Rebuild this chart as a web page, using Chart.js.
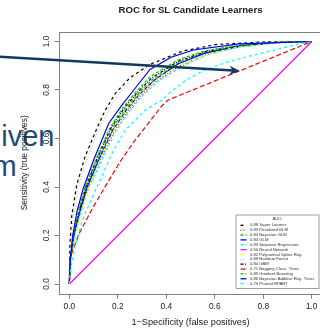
<!DOCTYPE html>
<html><head><meta charset="utf-8">
<script src="https://cdn.jsdelivr.net/npm/chart.js@4/dist/chart.umd.min.js"></script>
<style>
html,body{margin:0;padding:0;background:#fff;overflow:hidden;width:320px;height:335px;}
#wrap{position:absolute;left:0;top:0;width:330px;height:335px;z-index:1;}
.big{position:absolute;font-family:"Liberation Sans",Arial,sans-serif;font-size:29px;line-height:29px;color:#1f4d7a;white-space:nowrap;z-index:0;}
</style></head><body>
<div class="big" style="left:1.3px;top:121.5px">iven</div>
<div class="big" style="left:-7.4px;top:152.2px">m</div>
<div id="wrap"><canvas id="c"></canvas></div>
<script>
// ---------- DATA ----------
const chartTitle = 'ROC for SL Candidate Learners';
const xAxisLabel = '1\u2212Specificity (false positives)';
const yAxisLabel = 'Sensitivity (true positives)';
const legendTitle = 'AUC:';
const tickValues = [0, 0.2, 0.4, 0.6, 0.8, 1.0];
const learners = ['Super Learner','Penalized GLM','Bayesian GLM','GLM','Stepwise Regression','Neural Network','Polynomial Spline Reg.','Random Forest','GAM','Bagging Class. Trees','Gradient Boosting','Bayesian Additive Reg. Trees','Pruned RPART'];
const aucValues = [0.88,0.83,0.84,0.84,0.83,0.50,0.82,0.88,0.84,0.71,0.85,0.86,0.75];

const fprSL = [0,0.001,0.003,0.01,0.031,0.065,0.113,0.149,0.19,0.25,0.333,0.47,0.608,0.8,1];
const tprSL = [0,0.08,0.17,0.28,0.41,0.525,0.64,0.718,0.786,0.85,0.906,0.961,0.988,0.998,1];
const fprPenGLM = [0,0.006,0.021,0.047,0.078,0.125,0.185,0.24,0.294,0.355,0.46,0.57,0.7,0.85,1];
const tprPenGLM = [0,0.1,0.2,0.3,0.4,0.505,0.63,0.712,0.777,0.835,0.902,0.948,0.978,0.995,1];
const fprBayesGLM = [0,0.005,0.018,0.042,0.071,0.116,0.175,0.23,0.284,0.345,0.45,0.56,0.7,0.85,1];
const tprBayesGLM = [0,0.1,0.2,0.3,0.4,0.51,0.638,0.72,0.785,0.845,0.912,0.955,0.982,0.996,1];
const fprGLM = [0,0.005,0.019,0.044,0.074,0.12,0.179,0.234,0.288,0.35,0.45,0.56,0.7,0.85,1];
const tprGLM = [0,0.1,0.2,0.3,0.4,0.508,0.634,0.716,0.781,0.84,0.908,0.952,0.98,0.995,1];
const fprStep = [0,0.006,0.022,0.049,0.081,0.13,0.19,0.245,0.3,0.36,0.47,0.57,0.7,0.85,1];
const tprStep = [0,0.1,0.2,0.3,0.4,0.503,0.628,0.71,0.775,0.832,0.9,0.946,0.977,0.994,1];
const fprNN = [0,1];
const tprNN = [0,1];
const fprPoly = [0,0.01,0.024,0.044,0.08,0.149,0.197,0.245,0.307,0.38,0.47,0.58,0.677,0.85,1];
const tprPoly = [0,0.1,0.195,0.278,0.4,0.566,0.663,0.731,0.8,0.86,0.906,0.95,0.975,0.995,1];
const fprRF = [0,0.002,0.007,0.018,0.038,0.075,0.12,0.16,0.2,0.26,0.34,0.47,0.61,0.8,1];
const tprRF = [0,0.09,0.18,0.29,0.405,0.52,0.635,0.715,0.78,0.845,0.9,0.955,0.985,0.997,1];
const fprGAM = [0,0.004,0.017,0.04,0.068,0.113,0.171,0.226,0.28,0.34,0.45,0.56,0.7,0.85,1];
const tprGAM = [0,0.1,0.2,0.3,0.4,0.513,0.642,0.725,0.789,0.85,0.918,0.958,0.983,0.996,1];
const fprBag = [0,0.003,0.044,0.1,0.156,0.21,0.272,0.328,0.382,0.408,1];
const tprBag = [0,0.11,0.215,0.32,0.415,0.505,0.594,0.665,0.735,0.759,1];
const fprGB = [0,0.004,0.016,0.038,0.065,0.11,0.168,0.222,0.275,0.333,0.45,0.56,0.7,0.85,1];
const tprGB = [0,0.1,0.2,0.3,0.4,0.515,0.645,0.728,0.792,0.855,0.925,0.962,0.985,0.997,1];
const fprBART = [0,0.004,0.014,0.032,0.058,0.1,0.163,0.217,0.266,0.333,0.42,0.512,0.7,1];
const tprBART = [0,0.1,0.2,0.3,0.395,0.51,0.663,0.738,0.8,0.885,0.935,0.965,0.99,1];
const fprRPART = [0,0.005,0.025,0.06,0.121,0.176,0.231,0.314,0.382,0.415,0.48,0.553,0.65,0.745,0.91,1];
const tprRPART = [0,0.06,0.16,0.28,0.415,0.539,0.635,0.718,0.759,0.789,0.84,0.88,0.915,0.94,0.981,1];

const fprList = [fprSL,fprPenGLM,fprBayesGLM,fprGLM,fprStep,fprNN,fprPoly,fprRF,fprGAM,fprBag,fprGB,fprBART,fprRPART];
const tprList = [tprSL,tprPenGLM,tprBayesGLM,tprGLM,tprStep,tprNN,tprPoly,tprRF,tprGAM,tprBag,tprGB,tprBART,tprRPART];

// annotation arrow (data units)
const arrowStart = [-0.31, 0.9386];
const arrowEnd = [0.7042, 0.8784];

// ---------- STYLE ----------
const lineColors = ['#000000','#FF0000','#00CD00','#0000FF','#00FFFF','#FF00FF','#FFFF00','#BEBEBE','#000000','#FF0000','#00CD00','#0000FF','#00FFFF'];
const lineDashes = [[3,3],[1,2],[3,2],[],[3,2],[],[3,3],[1,2],[3,1.5,1,1.5],[5,2.5],[3,2],[],[3,3]];
const FONT = '"Liberation Sans", Arial, Helvetica, sans-serif';
Chart.defaults.font.family = FONT;
Chart.defaults.color = '#1a1a1a';

const datasets = learners.map((name, i) => ({
  label: aucValues[i].toFixed(2) + ' ' + name,
  data: fprList[i].map((x, j) => ({x: x, y: tprList[i][j]})),
  borderColor: lineColors[i],
  borderDash: lineDashes[i],
  borderWidth: 1.2,
  pointRadius: 0,
  fill: false,
  tension: 0,
  order: learners.length - i
}));

const boxPlugin = {
  id: 'rbox',
  beforeDatasetsDraw(chart) {
    const {ctx, chartArea: ca} = chart;
    ctx.save();
    ctx.strokeStyle = '#808080';
    ctx.lineWidth = 1;
    ctx.strokeRect(Math.round(ca.left) - 0.5, Math.round(ca.top) + 0.5, Math.round(ca.right) - Math.round(ca.left) + 1, Math.round(ca.bottom) - Math.round(ca.top));
    ctx.restore();
  }
};

const legendPlugin = {
  id: 'aucLegend',
  afterDatasetsDraw(chart) {
    const {ctx, chartArea: ca} = chart;
    const right = ca.right - 2.4, bottom = ca.bottom - 5.2;
    const w = 83, h = 73.5, rowH = 4.86;
    const left = right - w, top = bottom - h;
    ctx.save();
    ctx.fillStyle = '#fff';
    ctx.fillRect(left, top, w, h);
    ctx.strokeStyle = '#888';
    ctx.lineWidth = 0.8;
    ctx.strokeRect(left, top, w, h);
    ctx.font = '4.2px ' + FONT;
    ctx.fillStyle = '#333';
    ctx.textBaseline = 'middle';
    ctx.textAlign = 'center';
    ctx.fillText(legendTitle, left + w / 2, top + 4);
    ctx.textAlign = 'left';
    chart.data.datasets.forEach((ds, i) => {
      const y = top + 10.3 + i * rowH;
      ctx.strokeStyle = ds.borderColor;
      ctx.lineWidth = 1.3;
      ctx.setLineDash(ds.borderDash || []);
      ctx.beginPath();
      ctx.moveTo(left + 4.5, y);
      ctx.lineTo(left + 10.5, y);
      ctx.stroke();
      ctx.setLineDash([]);
      ctx.fillText(ds.label, left + 14, y);
    });
    ctx.restore();
  }
};

const arrowPlugin = {
  id: 'arrow',
  afterDraw(chart) {
    const {ctx} = chart;
    const xs = chart.scales.x, ys = chart.scales.y;
    const x1 = xs.getPixelForValue(arrowStart[0]), y1 = ys.getPixelForValue(arrowStart[1]);
    const x2 = xs.getPixelForValue(arrowEnd[0]), y2 = ys.getPixelForValue(arrowEnd[1]);
    const ang = Math.atan2(y2 - y1, x2 - x1);
    const hl = 9, hw = 4.5;
    const bx = x2 - hl * Math.cos(ang), by = y2 - hl * Math.sin(ang);
    ctx.save();
    ctx.strokeStyle = '#12395e';
    ctx.fillStyle = '#12395e';
    ctx.lineWidth = 2.6;
    ctx.beginPath();
    ctx.moveTo(x1, y1);
    ctx.lineTo(bx + 2 * Math.cos(ang), by + 2 * Math.sin(ang));
    ctx.stroke();
    ctx.beginPath();
    ctx.moveTo(x2, y2);
    ctx.lineTo(bx - hw * Math.sin(ang) - 1.5 * Math.cos(ang), by + hw * Math.cos(ang) - 1.5 * Math.sin(ang));
    ctx.lineTo(bx + 1.5 * Math.cos(ang), by + 1.5 * Math.sin(ang));
    ctx.lineTo(bx + hw * Math.sin(ang) - 1.5 * Math.cos(ang), by - hw * Math.cos(ang) - 1.5 * Math.sin(ang));
    ctx.closePath();
    ctx.fill();
    ctx.restore();
  }
};

const tickFmt = v => Number(v).toFixed(1);

new Chart(document.getElementById('c'), {
  type: 'line',
  data: {datasets: datasets},
  options: {
    responsive: true,
    maintainAspectRatio: false,
    animation: false,
    events: [],
    layout: {padding: {left: 0, top: 0, right: 8.6, bottom: 0}},
    plugins: {
      legend: {display: false},
      tooltip: {enabled: false},
      title: {
        display: true, text: chartTitle, fullSize: false,
        font: {size: 9.6, weight: 'bold'}, color: '#1a1a1a',
        padding: {top: 5, bottom: 15.28}
      }
    },
    scales: {
      x: {
        type: 'linear', position: 'bottom', min: -0.04, max: 1.04,
        afterBuildTicks: s => { s.ticks = tickValues.map(v => ({value: v})); },
        afterFit: s => { s.height = 41.3; },
        ticks: {autoSkip: false, minRotation: 0, maxRotation: 0, padding: 3.3, font: {size: 8.4}, color: '#1a1a1a', callback: tickFmt},
        grid: {display: true, drawOnChartArea: false, drawTicks: true, tickLength: 5, tickColor: '#808080', tickWidth: 1},
        border: {display: false},
        title: {display: true, text: xAxisLabel, font: {size: 9.2}, color: '#1a1a1a', padding: {top: 0, bottom: 7.5}}
      },
      y: {
        type: 'linear', position: 'left', min: -0.04, max: 1.04,
        afterBuildTicks: s => { s.ticks = tickValues.map(v => ({value: v})); },
        afterFit: s => { s.width = 59.6; },
        ticks: {autoSkip: false, minRotation: 90, maxRotation: 90, crossAlign: 'center', padding: 2.1, font: {size: 8.4}, color: '#1a1a1a', callback: tickFmt},
        grid: {display: true, drawOnChartArea: false, drawTicks: true, tickLength: 5, tickColor: '#808080', tickWidth: 1},
        border: {display: false},
        title: {display: true, text: yAxisLabel, font: {size: 8.4}, color: '#1a1a1a', padding: {top: 20, bottom: 0}}
      }
    }
  },
  plugins: [boxPlugin, legendPlugin, arrowPlugin]
});
</script>
</body></html>
